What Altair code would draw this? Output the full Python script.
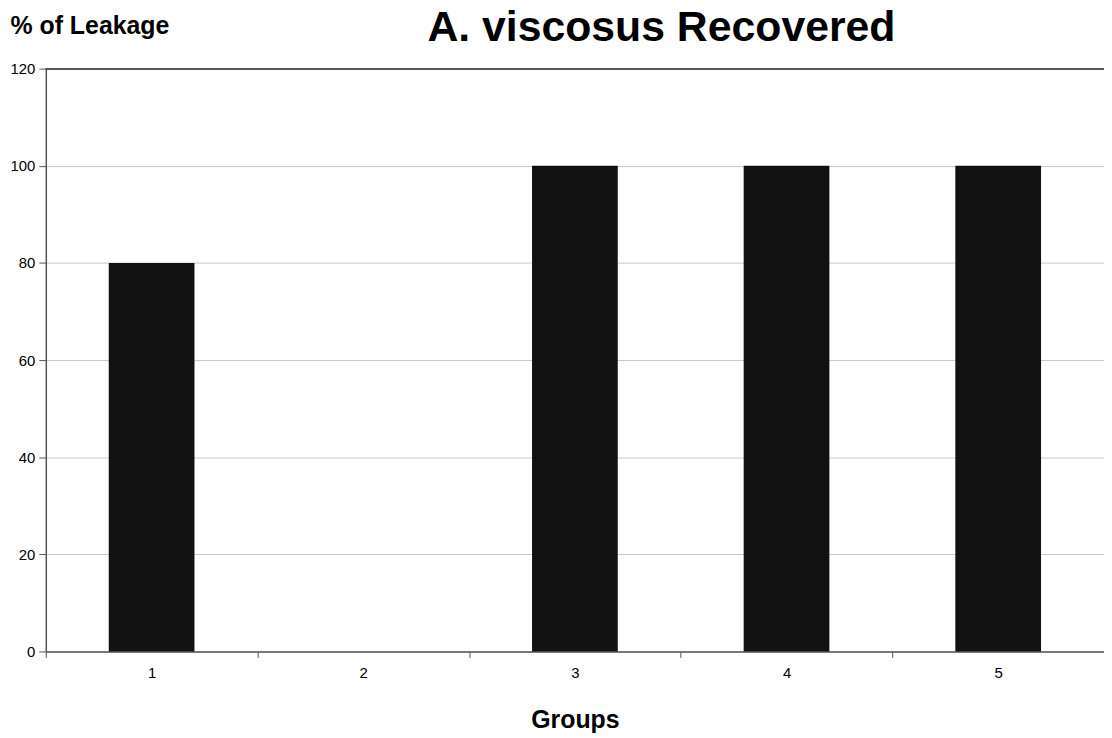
import altair as alt
import pandas as pd

groups = ["1", "2", "3", "4", "5"]
leakage = [80, 0, 100, 100, 100]
y_ticks = [0, 20, 40, 60, 80, 100, 120]
chart_title = "A. viscosus Recovered"

df = pd.DataFrame({"group": groups, "value": leakage})
title_df = pd.DataFrame({"label": [chart_title]})

FONT = "Liberation Sans"

bars = alt.Chart(df).mark_bar(
    color="#111111",
    width=alt.RelativeBandSize(0.405),
).encode(
    x=alt.X(
        "group:N",
        sort=groups,
        scale=alt.Scale(paddingInner=0, paddingOuter=0),
        axis=alt.Axis(
            title="Groups",
            titleFont=FONT,
            titleFontSize=25,
            titleFontWeight="bold",
            titleColor="#000000",
            titleBaseline="alphabetic",
            titleY=76,
            labelAngle=0,
            labelFont=FONT,
            labelFontSize=15,
            labelColor="#000000",
            labelPadding=8,
            tickBand="extent",
            tickSize=6,
            tickColor="#555555",
            domainColor="#555555",
            domainWidth=1.5,
            grid=False,
        ),
    ),
    y=alt.Y(
        "value:Q",
        scale=alt.Scale(domain=[0, 120], nice=False),
        axis=alt.Axis(
            values=y_ticks,
            title="% of Leakage",
            titleFont=FONT,
            titleFontSize=25,
            titleFontWeight="bold",
            titleColor="#000000",
            titleAngle=0,
            titleAlign="left",
            titleBaseline="alphabetic",
            titleX=-36,
            titleY=-35,
            labelFont=FONT,
            labelFontSize=15,
            labelColor="#000000",
            labelPadding=4,
            tickSize=7,
            tickColor="#555555",
            domainColor="#555555",
            domainWidth=1.5,
            grid=True,
            gridColor="#c8c8c8",
            gridWidth=1,
        ),
    ),
)

top_line = alt.Chart(df).mark_rule(color="#555555", strokeWidth=1.5).encode(
    y=alt.datum(120)
)

title_text = alt.Chart(title_df).mark_text(
    font=FONT, fontSize=43, fontWeight="bold", color="#000000",
    align="center", baseline="alphabetic",
).encode(
    text="label:N",
    x=alt.value(619),
    y=alt.value(-28),
)

chart = alt.layer(bars, top_line, title_text).properties(
    width=1064,
    height=586,
    padding={"left": 38, "top": 59, "right": 0, "bottom": 82},
    autosize=alt.AutoSizeParams(type="none"),
).configure_view(stroke=None)

chart.save("out.html", embed_options={"renderer": "svg", "actions": False})
